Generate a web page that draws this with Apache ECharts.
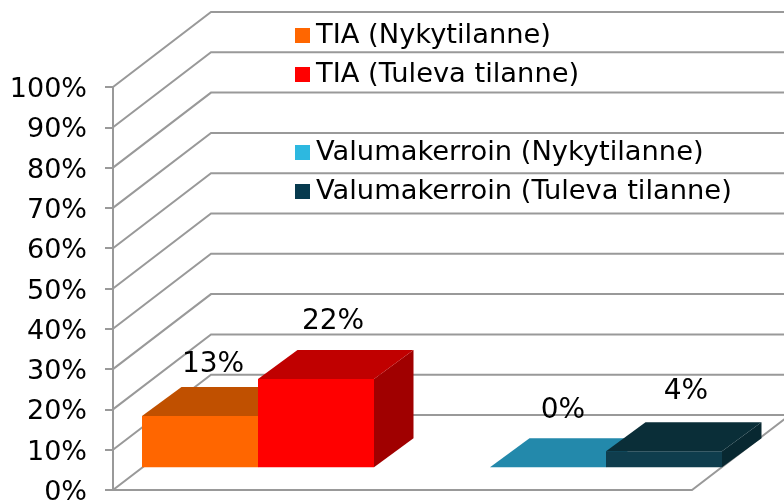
<!DOCTYPE html>
<html>
<head>
<meta charset="utf-8">
<style>
  html, body { margin: 0; padding: 0; background: #fff; }
  #chart { width: 784px; height: 502px; }
</style>
<script src="https://cdn.jsdelivr.net/npm/echarts@6/dist/echarts.min.js"></script>
</head>
<body>
<div id="chart"></div>
<script>
var categories = ['TIA', 'Valumakerroin'];
var yTicks = [0, 10, 20, 30, 40, 50, 60, 70, 80, 90, 100];
var tiaNow = [12.7, null];
var tiaFuture = [21.9, null];
var runoffNow = [null, 0];
var runoffFuture = [null, 4];

var FONT = '"DejaVu Sans", sans-serif';
var GRID_COLOR = '#999999';

// depth of the fake 3d box, in pixels
var WALL_DX = 98, WALL_DY = -75;
var BAR_DX = 39.5, BAR_DY = -29;

function wallItem(params, api) {
    var p = api.coord([0, api.value(0)]);
    var rightX = params.coordSys.x + params.coordSys.width;
    var points = [[p[0], p[1]], [p[0] + WALL_DX, p[1] + WALL_DY], [rightX + WALL_DX, p[1] + WALL_DY]];
    if (api.value(0) === 0) {
        // floor outline
        points = [[rightX + WALL_DX, p[1] + WALL_DY], [p[0] + WALL_DX, p[1] + WALL_DY], p, [rightX, p[1]], [rightX + WALL_DX, p[1] + WALL_DY]];
    }
    return {
        type: 'polyline',
        shape: { points: points },
        style: { stroke: GRID_COLOR, lineWidth: 2, fill: null }
    };
}

function makeBar(name, values, colors, side, shift) {
    return {
        name: name,
        type: 'custom',
        xAxisIndex: 1,
        yAxisIndex: 1,
        itemStyle: { color: colors.legend },
        silent: true,
        data: values.map(function (v, i) { return [i, v]; }),
        renderItem: function (params, api) {
            var val = api.value(1);
            if (isNaN(val)) return;
            var base = api.coord([api.value(0), 0]);
            var top = api.coord([api.value(0), val]);
            var w = api.size([1, 0])[0] / 3;
            var x0 = base[0] + side * w;
            var x1 = x0 + w;
            var y0 = base[1], y1 = top[1];
            var children = [];
            if (y0 - y1 > 0.5) {
                children.push({
                    type: 'polygon',
                    shape: { points: [[x1, y0], [x1 + BAR_DX, y0 + BAR_DY], [x1 + BAR_DX, y1 + BAR_DY], [x1, y1]] },
                    style: { fill: colors.side }
                });
                children.push({
                    type: 'rect',
                    shape: { x: x0, y: y1, width: w, height: y0 - y1 },
                    style: { fill: colors.front }
                });
            }
            children.push({
                type: 'polygon',
                shape: { points: [[x0, y1], [x0 + BAR_DX, y1 + BAR_DY], [x1 + BAR_DX, y1 + BAR_DY], [x1, y1]] },
                style: { fill: colors.top }
            });
            children.push({
                type: 'text',
                style: {
                    text: Math.round(val) + '%',
                    x: x0 + w / 2 + shift[0],
                    y: y1 + shift[1],
                    align: 'center',
                    verticalAlign: 'middle',
                    font: '28px ' + FONT,
                    fill: '#000'
                }
            });
            return { type: 'group', children: children };
        }
    };
}

var chart = echarts.init(document.getElementById('chart'));
var option = {
    animation: false,
    backgroundColor: '#fff',
    legend: [
        {
            orient: 'vertical', left: 290, top: 17, icon: 'rect',
            itemWidth: 15, itemHeight: 15, itemGap: 12,
            selectedMode: false,
            textStyle: { fontFamily: FONT, fontSize: 27.3, lineHeight: 26, color: '#000', padding: [0, 0, 0, 1] },
            data: ['TIA (Nykytilanne)', 'TIA (Tuleva tilanne)']
        },
        {
            orient: 'vertical', left: 290, top: 134, icon: 'rect',
            itemWidth: 15, itemHeight: 15, itemGap: 12,
            selectedMode: false,
            textStyle: { fontFamily: FONT, fontSize: 27.3, lineHeight: 26, color: '#000', padding: [0, 0, 0, 1] },
            data: ['Valumakerroin (Nykytilanne)', 'Valumakerroin (Tuleva tilanne)']
        }
    ],
    grid: [
        { left: 113, top: 87, width: 579, height: 403, outerBoundsMode: 'none' },
        { left: 84, top: 64.3, width: 696, height: 403, outerBoundsMode: 'none' }
    ],
    xAxis: [
        { gridIndex: 0, type: 'value', min: 0, max: 1, show: false },
        { gridIndex: 1, type: 'category', data: categories, show: false }
    ],
    yAxis: [
        {
            gridIndex: 0, type: 'value', min: 0, max: 100, interval: 10,
            splitLine: { show: false },
            axisLine: { show: true, lineStyle: { color: GRID_COLOR, width: 2 } },
            axisTick: { show: true, length: 8, lineStyle: { color: GRID_COLOR, width: 2 } },
            axisLabel: {
                formatter: '{value}%', margin: 26, fontFamily: FONT, fontSize: 27, color: '#000',
                verticalAlign: 'top', lineHeight: 6,
                showMinLabel: true, showMaxLabel: true
            }
        },
        { gridIndex: 1, type: 'value', min: 0, max: 100, show: false }
    ],
    series: [
        {
            name: 'walls',
            type: 'custom',
            xAxisIndex: 0,
            yAxisIndex: 0,
            silent: true,
            data: yTicks.map(function (t) { return [t]; }),
            encode: { y: 0 },
            renderItem: wallItem
        },
        makeBar('TIA (Nykytilanne)', tiaNow,
            { legend: '#ff6600', front: '#ff6600', top: '#c05000', side: '#a04400' }, -1, [13, -51]),
        makeBar('TIA (Tuleva tilanne)', tiaFuture,
            { legend: '#ff0000', front: '#ff0000', top: '#c00000', side: '#a00000' }, 0, [17, -57]),
        makeBar('Valumakerroin (Nykytilanne)', runoffNow,
            { legend: '#2db8e0', front: '#2db8e0', top: '#2389ab', side: '#1d7591' }, -1, [15, -57]),
        makeBar('Valumakerroin (Tuleva tilanne)', runoffFuture,
            { legend: '#063a4e', front: '#0f3d4d', top: '#0a2e38', side: '#082831' }, 0, [22, -59])
    ]
};
chart.setOption(option);
window.addEventListener('resize', function () {
    chart.resize();
});
</script>
</body>
</html>
